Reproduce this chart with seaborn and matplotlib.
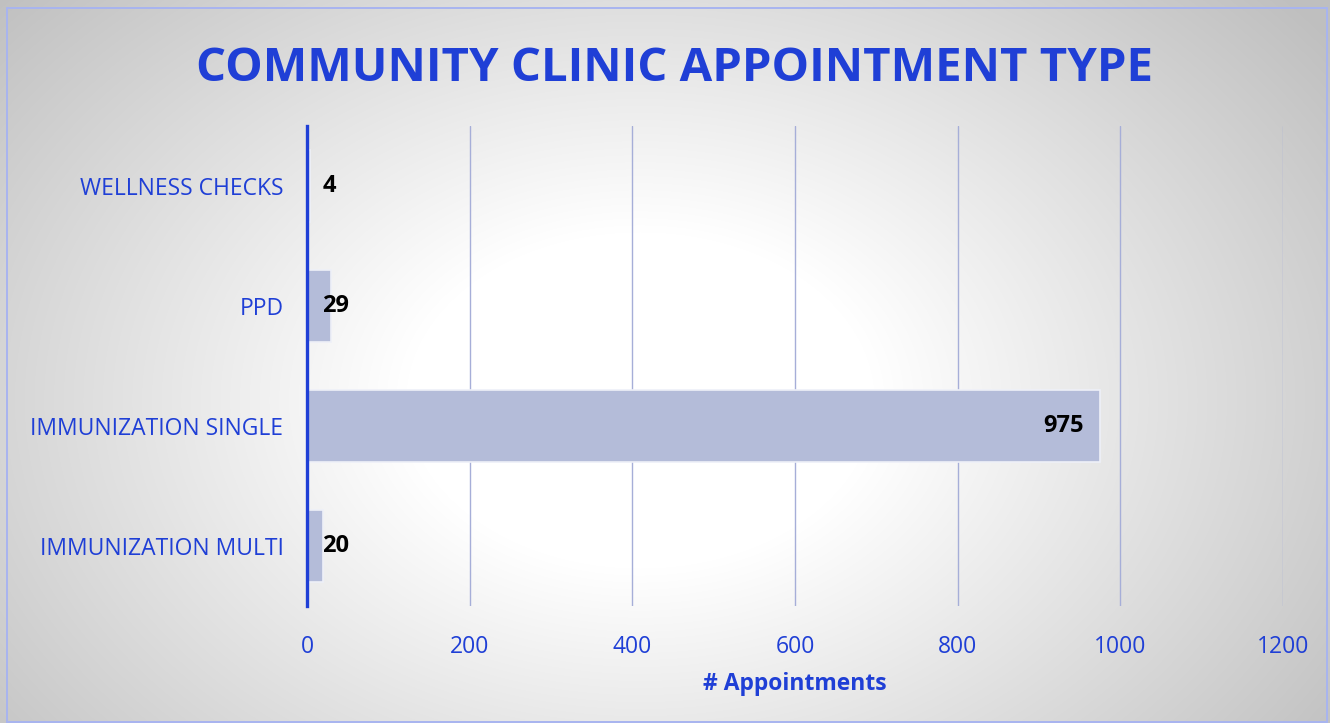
import numpy as np
import pandas as pd
import matplotlib
matplotlib.use("Agg")
import matplotlib.pyplot as plt
import seaborn as sns
from matplotlib.patches import Rectangle

# data
tipos = ["WELLNESS CHECKS", "PPD", "IMMUNIZATION SINGLE", "IMMUNIZATION MULTI"]
citas = [4, 29, 975, 20]
ticks_x = [0, 200, 400, 600, 800, 1000, 1200]

azul = "#1f3fd6"
barra = "#b4bcd9"
rejilla = "#a6aed8"

sns.set_theme(style="white")
plt.rcParams['font.family'] = ['Open Sans', 'DejaVu Sans']

df = pd.DataFrame({"tipo": tipos, "citas": citas})

fig = plt.figure(figsize=(13.3, 7.23), dpi=100)

# radial gradient background
fondo = fig.add_axes([0, 0, 1, 1], zorder=-5)
yy, xx = np.mgrid[0:723, 0:1330]
r = np.sqrt(((xx - 640) / 780.0) ** 2 + ((yy - 400) / 560.0) ** 2)
g = 1.0 - 0.25 * np.clip(r - 0.3, 0, None) / 0.8
g = np.clip(g, 0.75, 1.0)
fondo.imshow(np.dstack([g, g, g]), aspect='auto', extent=[0, 1, 0, 1])
fondo.set_axis_off()
fondo.add_patch(Rectangle((7 / 1330, 1 / 723), 1320 / 1330, 714 / 723,
                          transform=fondo.transAxes, fill=False,
                          edgecolor="#a8b4f0", linewidth=1.4))

ax = fig.add_axes([307 / 1330, 117 / 723, 976 / 1330, 480 / 723])
ax.patch.set_alpha(0)
sns.barplot(data=df, y="tipo", x="citas", orient="h", color=barra,
            saturation=1, width=0.6, edgecolor="#eef0f8", linewidth=1.2, ax=ax)

ax.set_xlim(0, 1200)
ax.set_xticks(ticks_x)
ax.xaxis.grid(True, color=rejilla, linewidth=1)
for gl in ax.get_xgridlines():
    gl.set_zorder(0.5)
for p in ax.patches:
    p.set_zorder(1)
ax.tick_params(axis='both', length=0, colors=azul, labelsize=16.5)
ax.tick_params(axis='x', pad=21)
ax.tick_params(axis='y', pad=17)
for s in ["top", "right", "bottom"]:
    ax.spines[s].set_visible(False)
ax.spines["left"].set_color(azul)
ax.spines["left"].set_linewidth(2.4)
ax.spines["left"].set_zorder(3)

ax.set_ylabel("")
ax.set_xlabel("# Appointments", color=azul, fontsize=16.5, fontweight="bold", labelpad=9)

for i, v in enumerate(citas):
    if v > 500:
        ax.annotate(str(v), (v, i), xytext=(-12, 0), textcoords="offset points",
                    ha="right", va="center", fontsize=17, fontweight="bold", color="black")
    else:
        ax.annotate(str(v), (0, i), xytext=(11, 0), textcoords="offset points",
                    ha="left", va="center", fontsize=17, fontweight="bold", color="black")

fig.text(0.5075, 0.905, "COMMUNITY CLINIC APPOINTMENT TYPE", ha="center", va="center",
         fontsize=34, fontweight="bold", color=azul)

fig.savefig("out.png", dpi=100)
